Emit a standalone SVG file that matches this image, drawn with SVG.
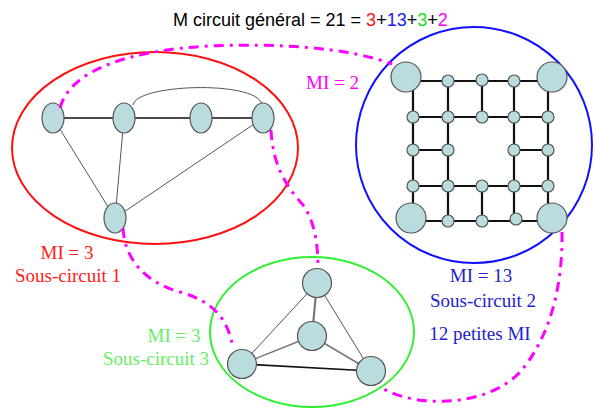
<svg xmlns="http://www.w3.org/2000/svg" width="597" height="410" viewBox="0 0 597 410">
<style>
.n{fill:#badcdf;stroke:#555;stroke-width:1.2}
.e{stroke:#111;stroke-width:1.6;fill:none}
.t{stroke:#555;stroke-width:1;fill:none}
.g{stroke:#111;stroke-width:2.2;fill:none}
.m{stroke:#ff00ff;stroke-width:3;fill:none;stroke-dasharray:10 6 3 6}
.lab{font-family:"Liberation Serif","Times New Roman",serif;font-size:19px}
.title{font-family:"Liberation Sans",Arial,sans-serif;font-size:18px}
</style>
<rect width="597" height="410" fill="#fff"/>
<g id="clusters" fill="none" stroke-width="2">
<ellipse id="sous-circuit-1" cx="155" cy="148" rx="143" ry="96" stroke="#ff1010"/>
<circle id="sous-circuit-2" cx="474" cy="145" r="118" stroke="#1010ff"/>
<ellipse id="sous-circuit-3" cx="312" cy="332" rx="102" ry="75" stroke="#33ee33"/>
</g>
<g id="connectors">
<line class="e" x1="53" y1="118" x2="263" y2="118"/>
<path class="t" d="M133,105 C136,84 255,80 262,104"/>
<line class="t" x1="53" y1="118" x2="115" y2="218"/>
<line class="t" x1="124" y1="118" x2="115" y2="218"/>
<line class="t" x1="263" y1="118" x2="115" y2="218"/>
<path class="g" d="M406,81 H552 M411,221 H552 M413,77 V221 M548,77 V221 M413,117 H548 M413,186 H548 M413,150 H448 M514,150 H548 M448,81 V221 M514,81 V221 M482,81 V117 M482,186 V221"/>
<line class="t" x1="317" y1="283" x2="242" y2="364"/>
<line x1="317" y1="283" x2="312" y2="336" stroke="#777" stroke-width="2.2"/>
<line class="t" x1="317" y1="283" x2="371" y2="371"/>
<line x1="312" y1="336" x2="242" y2="364" stroke="#777" stroke-width="1.5"/>
<line x1="312" y1="336" x2="371" y2="371" stroke="#777" stroke-width="1.5"/>
<line class="e" x1="242" y1="364" x2="371" y2="371"/>
</g>
<g id="nodes-sc1">
<ellipse id="a1" class="n" cx="53" cy="118" rx="11" ry="15"/>
<ellipse id="a2" class="n" cx="124" cy="118" rx="11" ry="15"/>
<ellipse id="a3" class="n" cx="201" cy="118" rx="11" ry="15"/>
<ellipse id="a4" class="n" cx="263" cy="118" rx="11" ry="15"/>
<ellipse id="a5" class="n" cx="115" cy="218" rx="11" ry="15"/>
</g>
<g id="nodes-sc2">
<circle id="b-tl" class="n" cx="406" cy="77" r="15"/>
<circle id="b-tr" class="n" cx="552" cy="77" r="15"/>
<circle id="b-bl" class="n" cx="411" cy="218" r="15"/>
<circle id="b-br" class="n" cx="552" cy="218" r="15"/>
<circle id="b1" class="n" cx="448" cy="81" r="6"/>
<circle id="b2" class="n" cx="482" cy="80" r="6"/>
<circle id="b3" class="n" cx="514" cy="81" r="6"/>
<circle id="b4" class="n" cx="413" cy="117" r="6"/>
<circle id="b5" class="n" cx="448" cy="117" r="6"/>
<circle id="b6" class="n" cx="482" cy="117" r="6"/>
<circle id="b7" class="n" cx="514" cy="117" r="6"/>
<circle id="b8" class="n" cx="548" cy="117" r="6"/>
<circle id="b9" class="n" cx="413" cy="150" r="6"/>
<circle id="b10" class="n" cx="448" cy="150" r="6"/>
<circle id="b11" class="n" cx="514" cy="150" r="6"/>
<circle id="b12" class="n" cx="548" cy="150" r="6"/>
<circle id="b13" class="n" cx="413" cy="186" r="6"/>
<circle id="b14" class="n" cx="448" cy="186" r="6"/>
<circle id="b15" class="n" cx="482" cy="186" r="6"/>
<circle id="b16" class="n" cx="514" cy="186" r="6"/>
<circle id="b17" class="n" cx="548" cy="186" r="6"/>
<circle id="b18" class="n" cx="448" cy="221" r="6"/>
<circle id="b19" class="n" cx="482" cy="221" r="6"/>
<circle id="b20" class="n" cx="516" cy="219" r="6"/>
</g>
<g id="nodes-sc3">
<circle id="c1" class="n" cx="317" cy="283" r="14.5"/>
<circle id="c2" class="n" cx="312" cy="336" r="14.5"/>
<circle id="c3" class="n" cx="242" cy="364" r="14.5"/>
<circle id="c4" class="n" cx="371" cy="371" r="14.5"/>
</g>
<g id="links">
<path class="m" d="M60,108 C70,70 130,50 210,46 C280,43 350,48 392,64"/>
<path class="m" d="M271,130 C273,170 290,190 303,205 C315,222 318,245 318,268"/>
<path class="m" d="M123,228 C125,260 145,282 180,292 C215,302 228,320 233,348"/>
<path class="m" d="M562,232 C563,290 548,340 520,372 C490,405 420,410 382,388"/>
</g>
<g id="labels">
<text class="title" x="173" y="26" fill="#000">M circuit général = 21 = <tspan fill="#ff1010">3</tspan>+<tspan fill="#1a1aff">13</tspan>+<tspan fill="#22dd22">3</tspan>+<tspan fill="#ff00ff">2</tspan></text>
<text class="lab" x="306" y="89" fill="#ff00ff">MI = 2</text>
<text class="lab" x="67" y="259" fill="#ff1a1a" text-anchor="middle">MI = 3</text>
<text class="lab" x="68" y="282" fill="#ff1a1a" text-anchor="middle">Sous-circuit 1</text>
<text class="lab" x="174" y="342" fill="#66ee66" text-anchor="middle">MI = 3</text>
<text class="lab" x="156" y="365" fill="#66ee66" text-anchor="middle">Sous-circuit 3</text>
<text class="lab" x="481" y="282" fill="#2222cc" text-anchor="middle">MI = 13</text>
<text class="lab" x="483" y="307" fill="#2222cc" text-anchor="middle">Sous-circuit 2</text>
<text class="lab" x="480" y="340" fill="#2222cc" text-anchor="middle">12 petites MI</text>
</g>
</svg>
